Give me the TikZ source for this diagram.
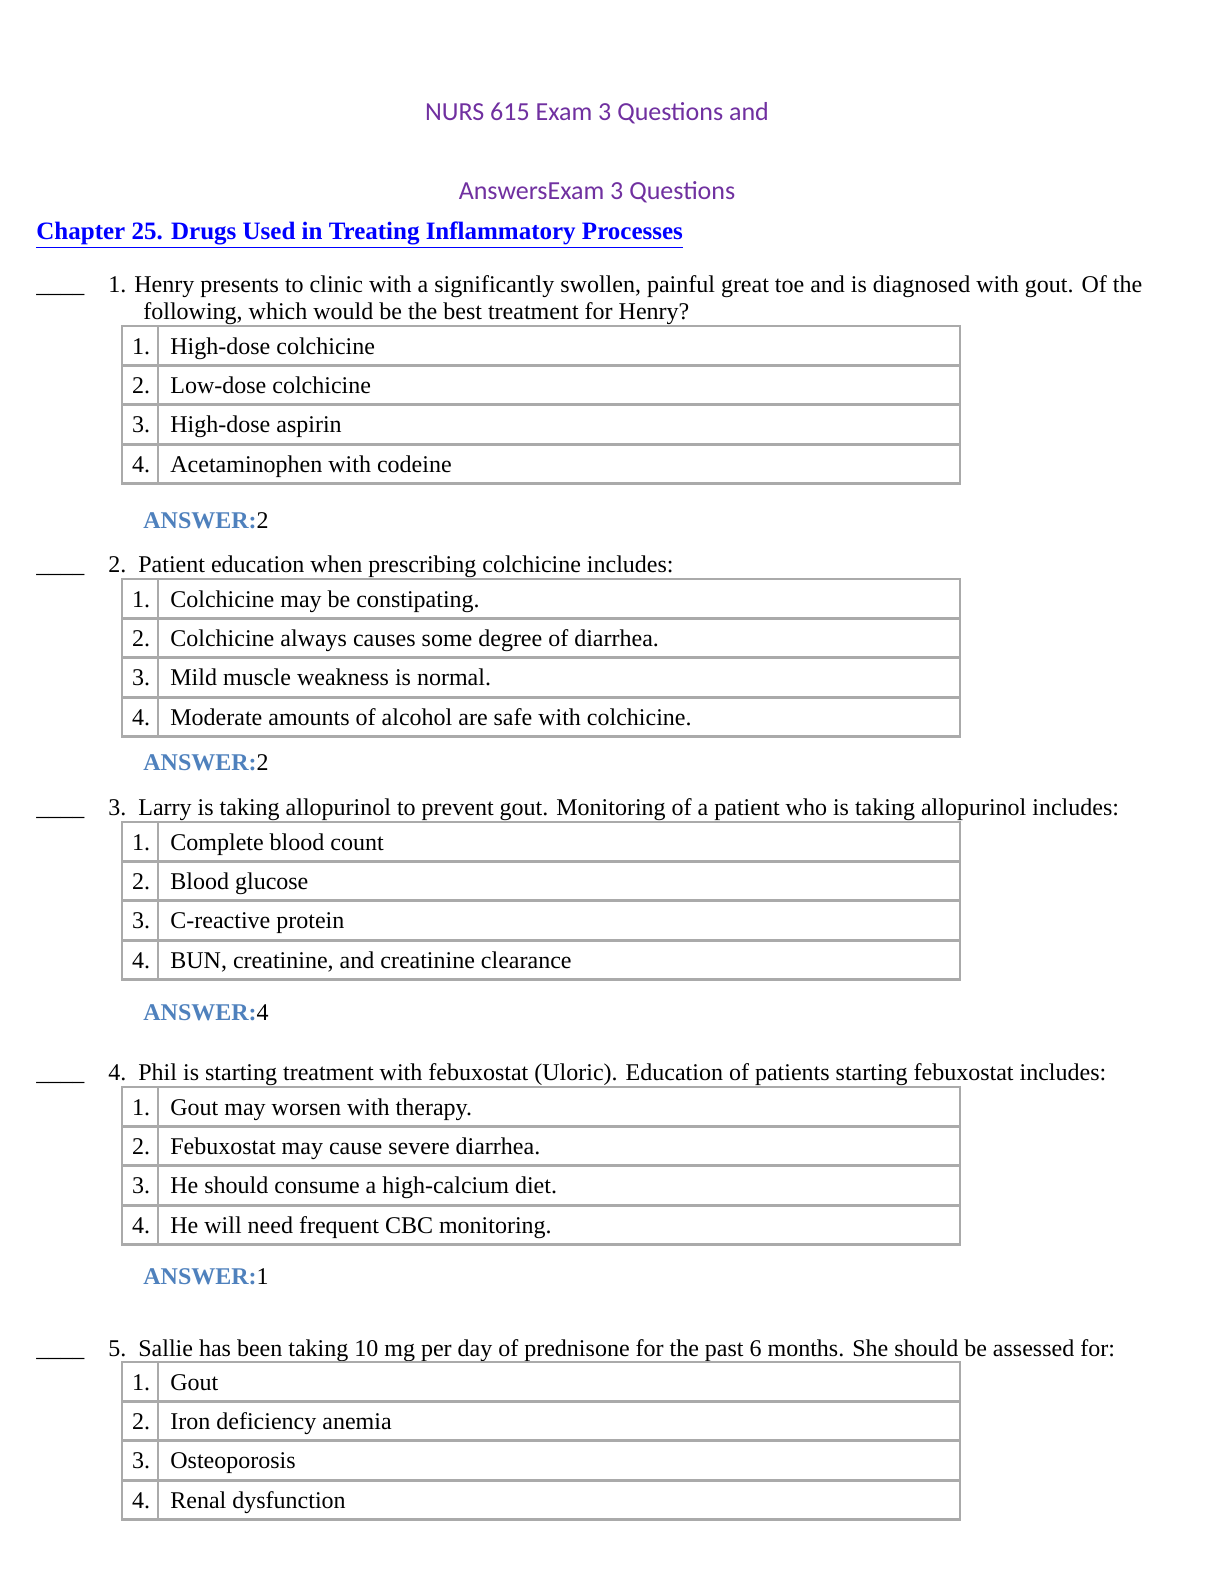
\documentclass[tikz,border=0pt]{standalone}
\usepackage{fontspec}
\setmainfont{Liberation Serif}
\newfontfamily\titlefont{Carlito}
\definecolor{titlepurple}{RGB}{112,48,160}
\definecolor{answerblue}{RGB}{79,129,189}
\definecolor{linkblue}{RGB}{0,0,255}
\definecolor{rulegray}{RGB}{170,170,170}
\tikzset{
  body/.style={anchor=base west,inner sep=0pt,font=\fontsize{12}{14}\selectfont},
  title/.style={anchor=base,inner sep=0pt,text=titlepurple,font=\titlefont\fontsize{13}{15}\selectfont},
  answer/.style={body,font=\fontsize{12}{14}\selectfont},
  cell/.style={draw=rulegray,line width=1.4pt}
}
% one answer table: top edge y, prefix for node names, items
\newcommand\optiontable[3]{%
  \foreach \txt [count=\i] in {#3}{
    \draw[cell] (122,{#1+(\i-1)*39.4}) rectangle (960,{#1+\i*39.4});
    \draw[cell] (158,{#1+(\i-1)*39.4}) -- (158,{#1+\i*39.4});
    \node[body,anchor=base] (#2n\i) at (141,{#1+(\i-1)*39.4+28}) {\i.};
    \node[body] (#2t\i) at (170,{#1+(\i-1)*39.4+28}) {\txt};
  }}
\begin{document}
\begin{tikzpicture}[x=0.5pt,y=-0.5pt]
\useasboundingbox[fill=white] (0,0) rectangle (1224,1584);
\node[title] (title1) at (597,120) {NURS 615 Exam 3 Questions and};
\node[title] (title2) at (597,199) {AnswersExam 3 Questions};
\node[body,text=linkblue,font=\bfseries\fontsize{12.5}{14}\selectfont] (chapter) at (36,239)
  {\underline{Chapter 25. Drugs Used in Treating Inflammatory Processes}};
% question 1
\node[body] (b1) at (36,292) {\_\_\_\_};
\node[body] (q1) at (108,292) {1. Henry presents to clinic with a significantly swollen, painful great toe and is diagnosed with gout. Of the};
\node[body] (q1b) at (143,319) {following, which would be the best treatment for Henry?};
\optiontable{326}{a}{High-dose colchicine,Low-dose colchicine,High-dose aspirin,Acetaminophen with codeine}
\node[body] (ans1) at (143,528) {\textcolor{answerblue}{\bfseries ANSWER:}2};
% question 2
\node[body] (b2) at (36,572) {\_\_\_\_};
\node[body] (q2) at (108,572) {2.\ \ Patient education when prescribing colchicine includes:};
\optiontable{579}{b}{Colchicine may be constipating.,Colchicine always causes some degree of diarrhea.,Mild muscle weakness is normal.,Moderate amounts of alcohol are safe with colchicine.}
\node[body] (ans2) at (143,770) {\textcolor{answerblue}{\bfseries ANSWER:}2};
% question 3
\node[body] (b3) at (36,815) {\_\_\_\_};
\node[body] (q3) at (108,815) {3.\ \ Larry is taking allopurinol to prevent gout. Monitoring of a patient who is taking allopurinol includes:};
\optiontable{822}{c}{Complete blood count,Blood glucose,C-reactive protein,{BUN, creatinine, and creatinine clearance}}
\node[body] (ans3) at (143,1020) {\textcolor{answerblue}{\bfseries ANSWER:}4};
% question 4
\node[body] (b4) at (36,1080) {\_\_\_\_};
\node[body] (q4) at (108,1080) {4.\ \ Phil is starting treatment with febuxostat (Uloric). Education of patients starting febuxostat includes:};
\optiontable{1087}{d}{Gout may worsen with therapy.,Febuxostat may cause severe diarrhea.,He should consume a high-calcium diet.,He will need frequent CBC monitoring.}
\node[body] (ans4) at (143,1284) {\textcolor{answerblue}{\bfseries ANSWER:}1};
% question 5
\node[body] (b5) at (36,1356) {\_\_\_\_};
\node[body] (q5) at (108,1356) {5.\ \ Sallie has been taking 10 mg per day of prednisone for the past 6 months. She should be assessed for:};
\optiontable{1362}{e}{Gout,Iron deficiency anemia,Osteoporosis,Renal dysfunction}
\end{tikzpicture}
\end{document}
